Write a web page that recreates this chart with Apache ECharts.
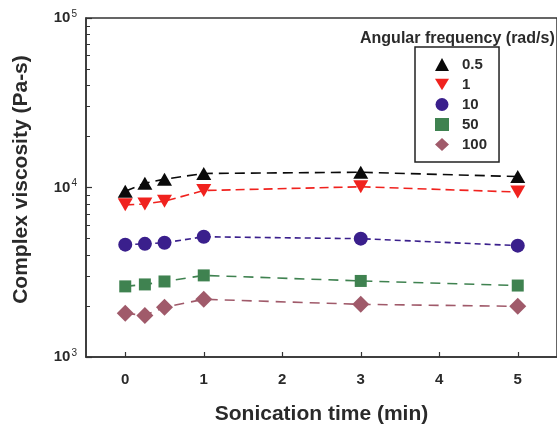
<!DOCTYPE html>
<html>
<head>
<meta charset="utf-8">
<script src="https://cdn.jsdelivr.net/npm/echarts@6/dist/echarts.min.js"></script>
<style>
  html, body { margin: 0; padding: 0; background: #fff; }
  #chart { width: 557px; height: 430px; }
</style>
</head>
<body>
<div id="chart"></div>
<script>
// Sonication time (min)
const sonicationTime = [0, 0.25, 0.5, 1, 3, 5];
const xTicks = [0, 1, 2, 3, 4, 5];

// Complex viscosity (Pa-s) at each angular frequency (rad/s)
const eta_0_5 = [9500, 10600, 11200, 12100, 12300, 11600];
const eta_1 = [7900, 8000, 8300, 9600, 10100, 9400];
const eta_10 = [4600, 4650, 4720, 5120, 4990, 4540];
const eta_50 = [2610, 2680, 2790, 3030, 2810, 2640];
const eta_100 = [1810, 1760, 1965, 2190, 2045, 1990];

const frequencyNames = ['0.5', '1', '10', '50', '100'];
const yMajorTicks = [1000, 10000, 100000];
const yMinorTicks = [2000, 3000, 4000, 5000, 6000, 7000, 8000, 9000,
                     20000, 30000, 40000, 50000, 60000, 70000, 80000, 90000];

const FONT = '"Liberation Sans", Arial, Helvetica, sans-serif';
const INK = '#2a2a2a';
const downTriangle = 'path://M0,0 L12,0 L6,10 Z';

const styles = [
  { color: '#0a0a0a', symbol: 'triangle', size: [15, 13], dash: [10, 6] },
  { color: '#f0221e', symbol: downTriangle, size: [15, 13], dash: [9, 5] },
  { color: '#3a1f8c', symbol: 'circle', size: 14, dash: [6, 4] },
  { color: '#3f8250', symbol: 'rect', size: 12, dash: [10, 7] },
  { color: '#a05a6a', symbol: 'diamond', size: [17, 17], dash: [10, 7] }
];
const seriesValues = [eta_0_5, eta_1, eta_10, eta_50, eta_100];

const series = seriesValues.map((vals, i) => ({
  name: frequencyNames[i],
  type: 'line',
  data: sonicationTime.map((t, j) => [t, vals[j]]),
  symbol: styles[i].symbol,
  symbolSize: styles[i].size,
  itemStyle: { color: styles[i].color, opacity: 1 },
  lineStyle: { color: styles[i].color, width: 1.6, type: styles[i].dash },
  emphasis: { disabled: true },
  z: 3
}));

const chart = echarts.init(document.getElementById('chart'), null, { renderer: 'canvas' });

const axisLineStyle = { color: '#333', width: 1.5 };

chart.setOption({
  animation: false,
  backgroundColor: '#fff',
  textStyle: { fontFamily: FONT },
  grid: {
    left: 86, right: -5, top: 18, bottom: 70,
    show: true, borderColor: '#333', borderWidth: 1.5, backgroundColor: 'transparent'
  },
  title: {
    text: 'Angular frequency (rad/s)',
    left: 355, top: 26,
    textStyle: { fontFamily: FONT, fontSize: 16, fontWeight: 'bold', color: INK }
  },
  legend: {
    orient: 'vertical',
    left: 415, top: 47,
    padding: [10, 12, 10, 20],
    itemWidth: 14, itemHeight: 13, itemGap: 5,
    borderColor: '#222', borderWidth: 1.5,
    selectedMode: false,
    textStyle: { fontFamily: FONT, fontSize: 15, lineHeight: 15, fontWeight: 'bold', color: INK, padding: [0, 0, 0, 8] },
    data: frequencyNames.map((n, i) => ({ name: n, icon: styles[i].symbol }))
  },
  xAxis: {
    type: 'value',
    min: -0.5, max: 5.5,
    name: 'Sonication time (min)',
    nameLocation: 'middle',
    nameGap: 47,
    nameTextStyle: { fontFamily: FONT, fontSize: 21, fontWeight: 'bold', color: INK },
    axisLine: { show: true, onZero: false, lineStyle: axisLineStyle },
    axisTick: { show: true, inside: true, length: 5, customValues: xTicks, lineStyle: { color: '#333', width: 1.2 } },
    axisLabel: { customValues: xTicks, margin: 15, fontFamily: FONT, fontSize: 15, fontWeight: 'bold', color: INK },
    splitLine: { show: false }
  },
  yAxis: [
    {
      type: 'log', logBase: 10,
      min: 1000, max: 100000,
      name: 'Complex viscosity (Pa-s)',
      nameLocation: 'middle',
      nameGap: 54,
      nameRotate: 90,
      nameTextStyle: { fontFamily: FONT, fontSize: 21, fontWeight: 'bold', color: INK, padding: [0, 0, 0, 16] },
      axisLine: { show: true, onZero: false, lineStyle: axisLineStyle },
      axisTick: { show: true, inside: true, length: 6, customValues: yMajorTicks, lineStyle: { color: '#333', width: 1.2 } },
      axisLabel: {
        customValues: yMajorTicks,
        margin: 9,
        formatter: v => '{b|10}{s|' + Math.round(Math.log10(v)) + '}',
        rich: {
          b: { fontFamily: FONT, fontSize: 15, fontWeight: 'bold', color: INK },
          s: { fontFamily: FONT, fontSize: 10, color: INK, padding: [0, 0, 8, 1] }
        }
      },
      splitLine: { show: false }
    },
    {
      type: 'log', logBase: 10,
      min: 1000, max: 100000,
      position: 'left',
      axisLine: { show: false, onZero: false },
      axisTick: { show: true, inside: true, length: 4, customValues: yMinorTicks, lineStyle: { color: '#333', width: 1 } },
      axisLabel: { show: false },
      splitLine: { show: false }
    }
  ],
  series: series
});
</script>
</body>
</html>
